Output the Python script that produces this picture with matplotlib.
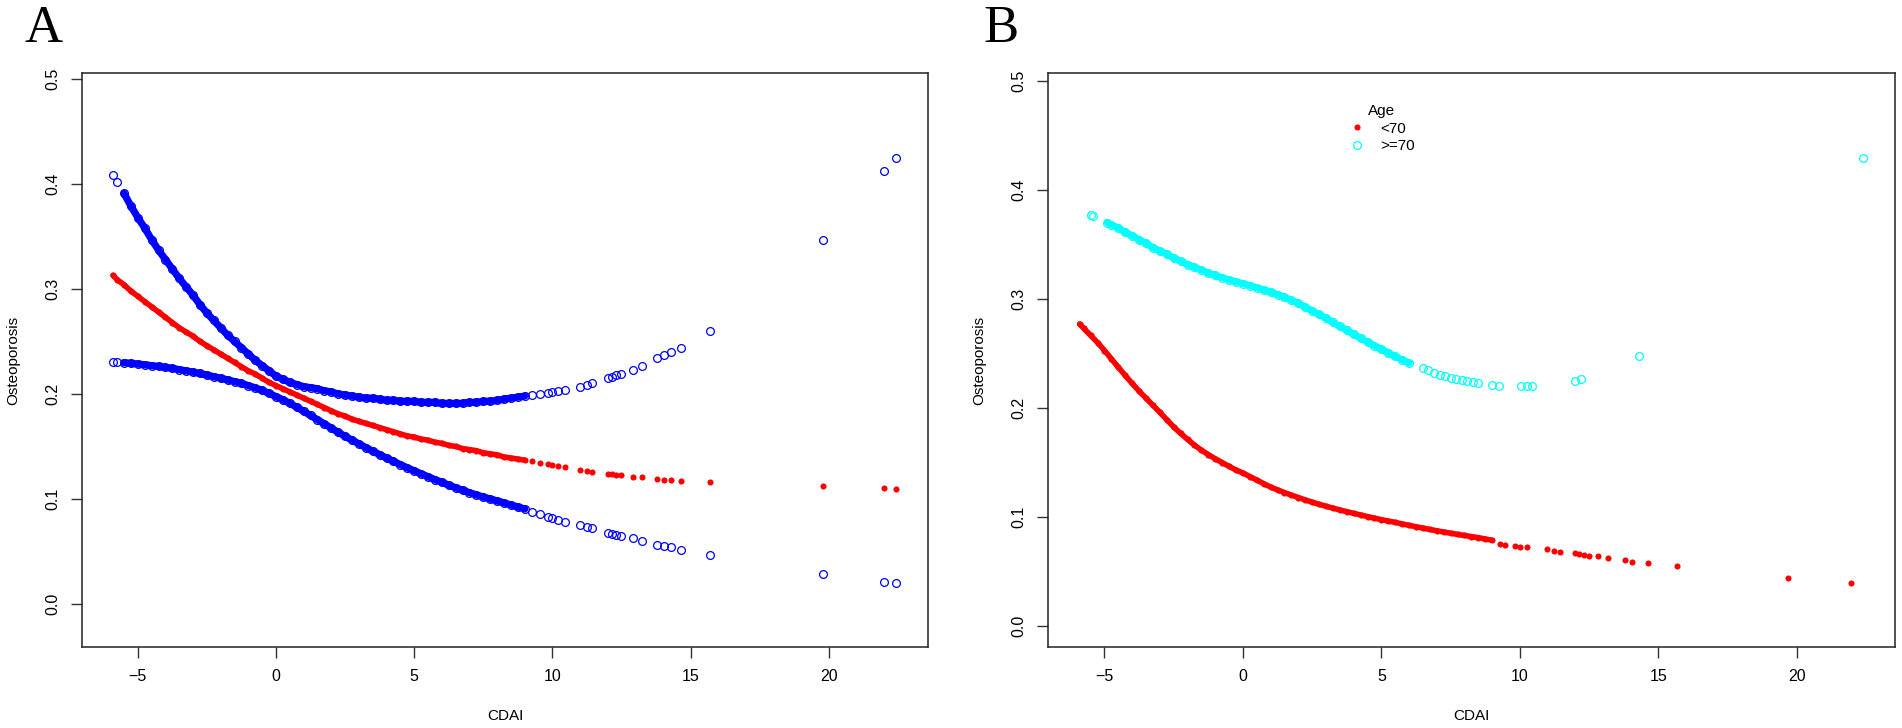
import matplotlib
matplotlib.use('Agg')
import matplotlib.pyplot as plt
from matplotlib.lines import Line2D

# ---- data ----
# CDAI values shared by the dense part of every series
cdai_dense = [-5.9, -5.75, -5.5, -5.25, -5.0, -4.75, -4.5, -4.25, -4.0, -3.75,
              -3.5, -3.25, -3.0, -2.75, -2.5, -2.25, -2.0, -1.75, -1.5, -1.25,
              -1.0, -0.75, -0.5, -0.25, 0.0, 0.25, 0.5, 0.75, 1.0, 1.25,
              1.5, 1.75, 2.0, 2.25, 2.5, 2.75, 3.0, 3.25, 3.5, 3.75,
              4.0, 4.25, 4.5, 4.75, 5.0, 5.25, 5.5, 5.75, 6.0, 6.25,
              6.5, 6.75, 7.0, 7.25, 7.5, 7.75, 8.0, 8.25, 8.5, 8.75, 9.0]

# Panel A: fitted curve with upper / lower confidence limits
a_cdai_tail = [9.25, 9.55, 9.85, 10.0, 10.2, 10.45, 11.0, 11.25, 11.45, 12.0, 12.15, 12.3,
               12.5, 12.9, 13.25, 13.8, 14.05, 14.3, 14.65, 15.7, 19.8, 22.0, 22.45]
a_upper = [0.409, 0.402, 0.391, 0.379, 0.368, 0.358, 0.347, 0.337, 0.328, 0.319,
           0.310, 0.302, 0.294, 0.285, 0.277, 0.270, 0.263, 0.256, 0.250, 0.244,
           0.238, 0.232, 0.227, 0.222, 0.217, 0.214, 0.211, 0.209, 0.207, 0.206,
           0.205, 0.203, 0.202, 0.200, 0.199, 0.198, 0.197, 0.196, 0.196, 0.195,
           0.194, 0.194, 0.193, 0.193, 0.193, 0.192, 0.192, 0.192, 0.191, 0.191,
           0.191, 0.191, 0.192, 0.192, 0.193, 0.193, 0.194, 0.195, 0.196, 0.197, 0.198,
           0.199, 0.200, 0.201, 0.202, 0.203, 0.204, 0.207, 0.209, 0.210, 0.215, 0.216, 0.218,
           0.219, 0.223, 0.227, 0.234, 0.237, 0.240, 0.244, 0.260, 0.347, 0.412, 0.425]
a_fit = [0.313, 0.309, 0.304, 0.298, 0.293, 0.288, 0.283, 0.278, 0.273, 0.268,
         0.263, 0.259, 0.255, 0.250, 0.246, 0.242, 0.238, 0.234, 0.230, 0.226,
         0.222, 0.219, 0.215, 0.211, 0.208, 0.205, 0.202, 0.199, 0.196, 0.193,
         0.190, 0.187, 0.184, 0.181, 0.179, 0.176, 0.174, 0.172, 0.170, 0.168,
         0.166, 0.164, 0.162, 0.160, 0.159, 0.157, 0.156, 0.154, 0.153, 0.151,
         0.150, 0.148, 0.147, 0.146, 0.144, 0.143, 0.142, 0.140, 0.139, 0.138, 0.137,
         0.136, 0.134, 0.133, 0.132, 0.131, 0.130, 0.128, 0.127, 0.126, 0.124, 0.1235, 0.123,
         0.1225, 0.121, 0.1205, 0.119, 0.1185, 0.118, 0.1175, 0.116, 0.112, 0.110, 0.1095]
a_lower = [0.2305, 0.2303, 0.2298, 0.2292, 0.2285, 0.2278, 0.2270, 0.2262, 0.2254, 0.2244,
           0.2232, 0.2220, 0.2208, 0.2195, 0.2180, 0.2165, 0.2150, 0.2134, 0.2118, 0.2100,
           0.2080, 0.2058, 0.2034, 0.2005, 0.1975, 0.1945, 0.1910, 0.1875, 0.1835, 0.1795,
           0.1755, 0.1715, 0.1675, 0.1635, 0.1597, 0.1560, 0.1525, 0.1490, 0.1455, 0.1422,
           0.1390, 0.1358, 0.1327, 0.1297, 0.1268, 0.1240, 0.1212, 0.1185, 0.1158, 0.1132,
           0.1107, 0.1083, 0.1060, 0.1039, 0.1019, 0.1000, 0.0982, 0.0963, 0.0943, 0.0924, 0.0905,
           0.088, 0.0855, 0.083, 0.082, 0.080, 0.078, 0.075, 0.073, 0.072, 0.068, 0.067, 0.066,
           0.065, 0.063, 0.060, 0.056, 0.055, 0.054, 0.0515, 0.0465, 0.0285, 0.021, 0.0195]
a_cdai = cdai_dense + a_cdai_tail

# Panel B: fitted curve by age group
b_young_tail = [9.3, 9.45, 9.82, 10.0, 10.25, 10.97, 11.23, 11.44, 12.0, 12.15,
                12.3, 12.5, 12.82, 13.2, 13.8, 14.04, 14.62, 15.67, 19.7, 21.95]
b_young = [0.277, 0.273, 0.2665, 0.260, 0.2527, 0.2450, 0.2373, 0.2298, 0.2225, 0.2155,
           0.2090, 0.2025, 0.1960, 0.1893, 0.1827, 0.1767, 0.1712, 0.1660, 0.1614, 0.1573,
           0.1535, 0.1500, 0.1465, 0.1432, 0.1405, 0.1372, 0.1340, 0.1307, 0.1276, 0.1250,
           0.1225, 0.1202, 0.1180, 0.1158, 0.1137, 0.1118, 0.1100, 0.1083, 0.1066, 0.1050,
           0.1035, 0.1020, 0.1005, 0.0991, 0.0977, 0.0964, 0.0952, 0.0938, 0.0925, 0.0912,
           0.0900, 0.0887, 0.0875, 0.0864, 0.0853, 0.0842, 0.0832, 0.0822, 0.0812, 0.0800, 0.0788,
           0.0752, 0.0748, 0.0734, 0.0725, 0.0722, 0.0706, 0.069, 0.068, 0.067, 0.0665,
           0.0655, 0.0645, 0.064, 0.0624, 0.0606, 0.0588, 0.0578, 0.055, 0.044, 0.0394]
b_young_cdai = cdai_dense + b_young_tail

b_old_cdai = [-5.5, -5.4, -4.9,
              -4.75, -4.5, -4.25, -4.0, -3.75, -3.5, -3.25, -3.0, -2.75, -2.5, -2.25,
              -2.0, -1.75, -1.5, -1.25, -1.0, -0.75, -0.5, -0.25, 0.0, 0.25, 0.5,
              0.75, 1.0, 1.25, 1.5, 1.75, 2.0, 2.25, 2.5, 2.75, 3.0, 3.25, 3.5,
              3.75, 4.0, 4.25, 4.5, 4.75, 5.0, 5.25, 5.5, 5.75, 6.0,
              6.5, 6.7, 6.9, 7.1, 7.3, 7.5, 7.7, 7.9, 8.1, 8.3, 8.5, 9.0, 9.25,
              10.05, 10.25, 10.45, 12.0, 12.2, 14.3, 22.4]
b_old = [0.377, 0.376, 0.370,
         0.368, 0.365, 0.361, 0.358, 0.354, 0.351, 0.347, 0.344, 0.341, 0.3375, 0.3345,
         0.3315, 0.329, 0.3265, 0.3238, 0.3215, 0.3195, 0.3175, 0.3157, 0.314, 0.3122, 0.3103,
         0.3083, 0.3062, 0.304, 0.3015, 0.2988, 0.2958, 0.2925, 0.2892, 0.2858, 0.2822, 0.2785, 0.2748,
         0.2712, 0.2675, 0.264, 0.2605, 0.2572, 0.2538, 0.2505, 0.2473, 0.2442, 0.2413,
         0.2365, 0.2345, 0.2325, 0.2307, 0.229, 0.2275, 0.2263, 0.2253, 0.2245, 0.2238, 0.223, 0.221, 0.2205,
         0.2202, 0.2202, 0.2205, 0.225, 0.2265, 0.248, 0.429]

age_labels = ['<70', '>=70']
x_ticks = [-5, 0, 5, 10, 15, 20]
y_ticks = [0.0, 0.1, 0.2, 0.3, 0.4, 0.5]

plt.rcParams['font.family'] = ['Liberation Sans', 'DejaVu Sans']

fig = plt.figure(figsize=(19.02, 7.28), dpi=100)
ax_a = fig.add_axes([0.04311, 0.11126, 0.44480, 0.78846])
ax_b = fig.add_axes([0.55100, 0.11126, 0.44532, 0.78846])

circle = dict(linestyle='none', marker='o', markerfacecolor='none', markersize=5.6, markeredgewidth=0.9)
dot = dict(linestyle='none', marker='o', markersize=4.4, markeredgewidth=0)
# where the points pile up they read as a solid band
band = dict(solid_capstyle='round', solid_joinstyle='round')

# A
ax_a.plot(cdai_dense[2:], a_upper[2:61], color='blue', lw=5.2, **band)
ax_a.plot(cdai_dense[2:], a_lower[2:61], color='blue', lw=5.2, **band)
ax_a.plot(a_cdai, a_upper, color='blue', **circle)
ax_a.plot(a_cdai, a_lower, color='blue', **circle)
ax_a.plot(cdai_dense, a_fit[:61], color='red', lw=4.0, **band)
ax_a.plot(a_cdai, a_fit, color='red', **dot)
ax_a.set_xlim(-7.02, 23.59)
ax_a.set_ylim(-0.041, 0.5057)

# B
ax_b.plot(cdai_dense, b_young[:61], color='red', lw=4.0, **band)
ax_b.plot(b_young_cdai, b_young, color='red', **dot)
ax_b.plot(b_old_cdai[2:47], b_old[2:47], color='cyan', lw=5.0, **band)
ax_b.plot(b_old_cdai, b_old, color='cyan', **circle)
ax_b.set_xlim(-7.04, 23.55)
ax_b.set_ylim(-0.019, 0.507)

handles = [Line2D([], [], color='red', **dot),
           Line2D([], [], color='cyan', **circle)]
ax_b.legend(handles, age_labels, title='Age', loc='upper left', bbox_to_anchor=(0.343, 0.965),
            frameon=False, fontsize=11, title_fontsize=11, handlelength=1.0,
            handletextpad=1.0, labelspacing=0.25, borderpad=0.2)

for ax in (ax_a, ax_b):
    ax.set_xticks(x_ticks)
    ax.set_yticks(y_ticks)
    ax.set_yticklabels([f'{v:.1f}' for v in y_ticks], rotation=90, va='center')
    ax.tick_params(length=7.7, width=1.0, pad=8, labelsize=11.5, color='#333333')
    ax.set_xlabel('CDAI', fontsize=11, labelpad=18)
    ax.set_ylabel('Osteoporosis', fontsize=11, labelpad=18)
    for s in ax.spines.values():
        s.set_linewidth(1.1)
        s.set_color('#222222')

fig.text(0.0131, 0.9423, 'A', fontsize=38, family='Liberation Serif', ha='left', va='baseline')
fig.text(0.5168, 0.9423, 'B', fontsize=38, family='Liberation Serif', ha='left', va='baseline')

fig.savefig('out.png', dpi=100)
